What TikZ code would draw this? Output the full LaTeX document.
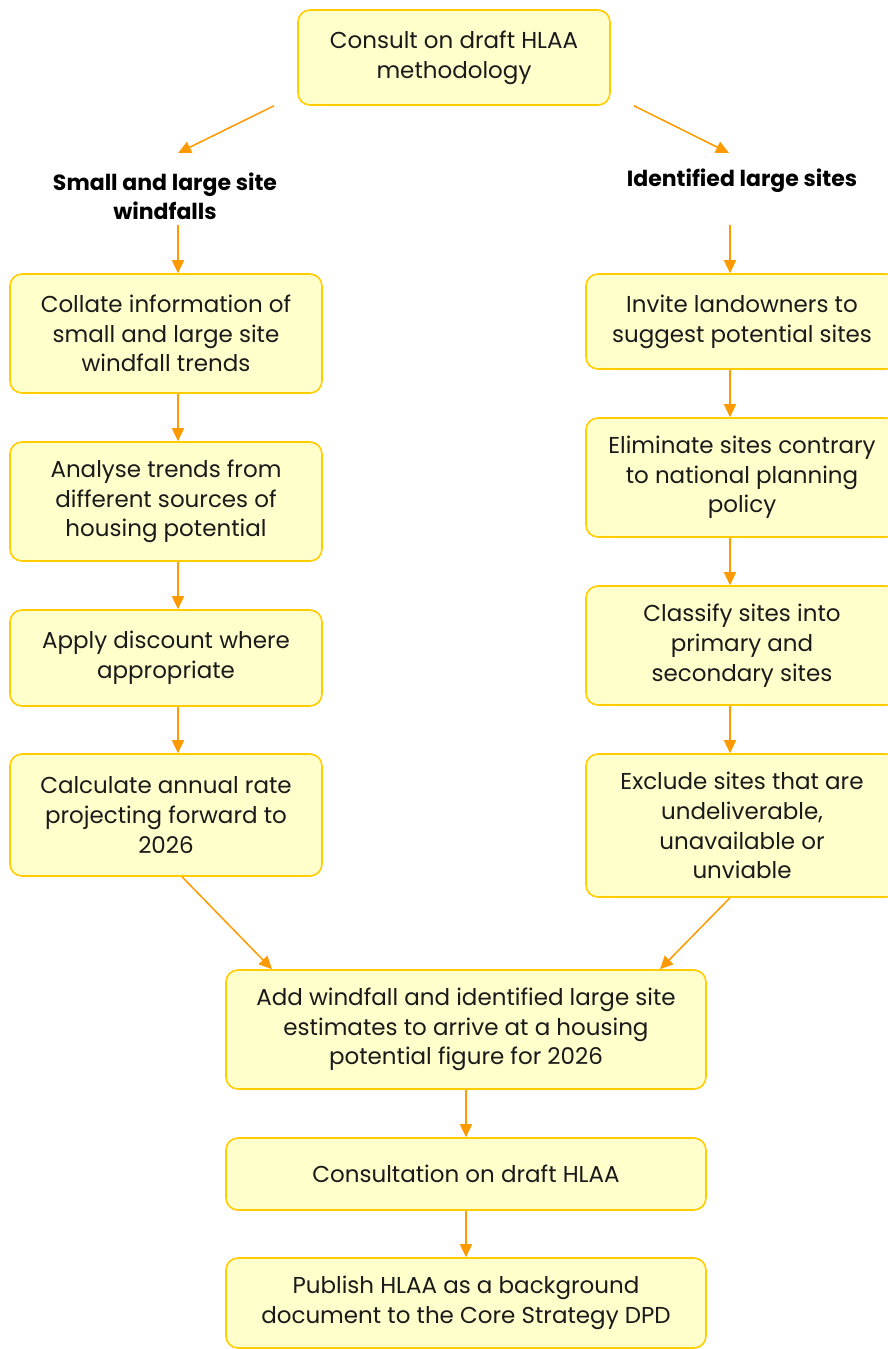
\documentclass[tikz,border=0pt]{standalone}
\usepackage{fontspec}
\setmainfont{Poppins}
\usetikzlibrary{arrows.meta,calc}
\definecolor{boxfill}{HTML}{FFFFCC}
\definecolor{boxline}{HTML}{FFCC00}
\definecolor{arr}{HTML}{FF9900}
\definecolor{txt}{HTML}{1A1A1A}
\begin{document}
\begin{tikzpicture}[x=1pt,y=-1pt,
  box/.style={draw=boxline, fill=boxfill, line width=1.6pt, rounded corners=12pt,
    align=center, text=txt, font=\fontsize{23}{29.7}\selectfont, inner sep=0pt},
  lbl/.style={align=center, text=black, font=\fontsize{22}{29}\selectfont\bfseries, inner sep=0pt},
  conn/.style={draw=arr, line width=1.5pt, -{Triangle[length=13pt,width=12pt]}}]
\useasboundingbox (0,0) rectangle (888,1349);
\clip (0,0) rectangle (888,1349);
% boxes
\node[box, minimum width=312, minimum height=95] (top) at (454,57.5) {Consult on draft HLAA\\methodology};
\node[lbl] (labL) at (165,196) {Small and large site\\windfalls};
\node[lbl] (labR) at (742,181) {Identified large sites};
\node[box, minimum width=312, minimum height=119] (L1) at (166,333.5) {Collate information of\\small and large site\\windfall trends};
\node[box, minimum width=312, minimum height=119] (L2) at (166,501.5) {Analyse trends from\\different sources of\\housing potential};
\node[box, minimum width=312, minimum height=96] (L3) at (166,658) {Apply discount where\\appropriate};
\node[box, minimum width=312, minimum height=122] (L4) at (166,815) {Calculate annual rate\\projecting forward to\\2026};
\node[box, minimum width=312, minimum height=95] (R1) at (742,321.5) {Invite landowners to\\suggest potential sites};
\node[box, minimum width=312, minimum height=119] (R2) at (742,477.5) {Eliminate sites contrary\\to national planning\\policy};
\node[box, minimum width=312, minimum height=119] (R3) at (742,645.5) {Classify sites into\\primary and\\secondary sites};
\node[box, minimum width=312, minimum height=143] (R4) at (742,825.5) {Exclude sites that are\\undeliverable,\\unavailable or\\unviable};
\node[box, minimum width=480, minimum height=119] (M1) at (466,1029.5) {Add windfall and identified large site\\estimates to arrive at a housing\\potential figure for 2026};
\node[box, minimum width=480, minimum height=72] (M2) at (466,1174) {Consultation on draft HLAA};
\node[box, minimum width=480, minimum height=90] (M3) at (466,1303) {Publish HLAA as a background\\document to the Core Strategy DPD};
% free ends near the labels
\coordinate (labLin) at (178,153);
\coordinate (labRin) at (729,153);
\coordinate (labLout) at (178,225);
\coordinate (labRout) at (730,225);
% connectors
\draw[conn] ([xshift=-180pt]top.south) -- (labLin);
\draw[conn] ([xshift=180pt]top.south) -- (labRin);
\draw[conn] (labLout) -- ([xshift=12pt]L1.north);
\draw[conn] (labRout) -- ([xshift=-12pt]R1.north);
\draw[conn] ([xshift=12pt]L1.south) -- ([xshift=12pt]L2.north);
\draw[conn] ([xshift=12pt]L2.south) -- ([xshift=12pt]L3.north);
\draw[conn] ([xshift=12pt]L3.south) -- ([xshift=12pt]L4.north);
\draw[conn] ([xshift=-12pt]R1.south) -- ([xshift=-12pt]R2.north);
\draw[conn] ([xshift=-12pt]R2.south) -- ([xshift=-12pt]R3.north);
\draw[conn] ([xshift=-12pt]R3.south) -- ([xshift=-12pt]R4.north);
\draw[conn] ([xshift=16pt]L4.south) -- ([xshift=-194pt]M1.north);
\draw[conn] ([xshift=-12pt]R4.south) -- ([xshift=194pt]M1.north);
\draw[conn] (M1.south) -- (M2.north);
\draw[conn] (M2.south) -- (M3.north);
\end{tikzpicture}
\end{document}
